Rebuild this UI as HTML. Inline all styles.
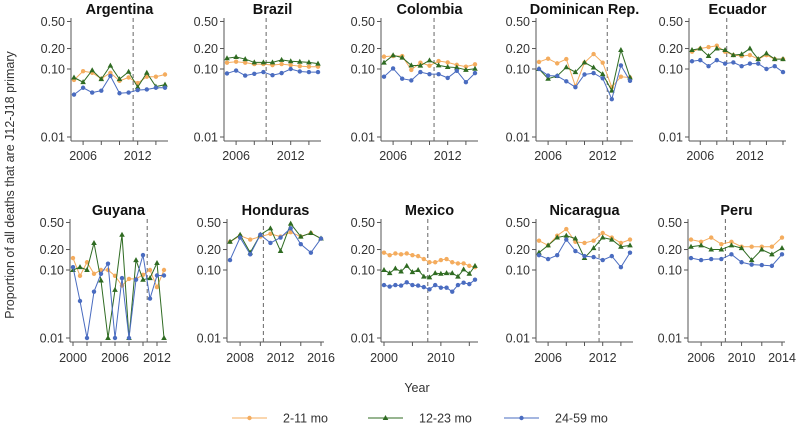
<!DOCTYPE html>
<html><head><meta charset="utf-8"><style>
body{margin:0;background:#fff}
svg{display:block;font-family:"Liberation Sans",sans-serif}
</style></head><body>
<svg id="c" width="800" height="426" viewBox="0 0 800 426" xmlns="http://www.w3.org/2000/svg"></svg>
<script>
const countries=["Argentina","Brazil","Colombia","Dominican Rep.","Ecuador","Guyana","Honduras","Mexico","Nicaragua","Peru"];
const startYears=[2005,2005,2005,2005,2005,2000,2007,2000,2005,2005];
const interventionYears=[2011.5,2009.3,2010.5,2012.5,2009.2,2010.6,2010.3,2007.7,2011.6,2008.4];
const tickLabels=[[2006,2012],[2006,2012],[2006,2012],[2006,2012],[2006,2012],[2000,2006,2012],[2008,2012,2016],[2000,2010],[2006,2012],[2006,2010,2014]];
const yTicks=[0.5,0.2,0.1,0.01];
const yTickLabels=["0.50","0.20","0.10","0.01"];
const s211=[
[0.069,0.093,0.088,0.072,0.088,0.067,0.075,0.062,0.077,0.077,0.083],
[0.124,0.128,0.124,0.118,0.118,0.114,0.118,0.114,0.11,0.108,0.108],
[0.152,0.155,0.155,0.097,0.124,0.112,0.131,0.125,0.115,0.108,0.117],
[0.127,0.142,0.121,0.14,0.056,0.124,0.166,0.124,0.054,0.077,0.075],
[0.18,0.2,0.21,0.22,0.18,0.16,0.155,0.16,0.14,0.16,0.14,0.14],
[0.15,0.082,0.13,0.088,0.1,0.1,0.082,0.059,0.074,0.074,0.085,0.1,0.056,0.1],
[0.26,0.32,0.28,0.31,0.34,0.31,0.36,0.31,0.35,0.29],
[0.18,0.165,0.175,0.17,0.175,0.165,0.16,0.145,0.13,0.13,0.14,0.145,0.13,0.125,0.125,0.115,0.11],
[0.27,0.23,0.32,0.4,0.26,0.25,0.27,0.35,0.3,0.25,0.28],
[0.28,0.26,0.3,0.24,0.26,0.22,0.22,0.22,0.22,0.3]];
const s1223=[
[0.075,0.064,0.096,0.071,0.112,0.071,0.091,0.054,0.088,0.055,0.059],
[0.144,0.15,0.14,0.125,0.125,0.125,0.136,0.13,0.128,0.125,0.12],
[0.124,0.159,0.147,0.113,0.112,0.134,0.113,0.107,0.105,0.097,0.101],
[0.1,0.072,0.079,0.106,0.09,0.125,0.105,0.084,0.048,0.19,0.075],
[0.19,0.2,0.155,0.2,0.19,0.16,0.165,0.2,0.14,0.17,0.14,0.14],
[0.1,0.11,0.1,0.25,0.07,0.01,0.051,0.33,0.01,0.14,0.072,0.076,0.127,0.01],
[0.26,0.33,0.18,0.33,0.41,0.19,0.48,0.31,0.35,0.29],
[0.1,0.09,0.105,0.095,0.115,0.093,0.1,0.08,0.078,0.09,0.088,0.09,0.09,0.08,0.102,0.088,0.115],
[0.18,0.23,0.3,0.32,0.29,0.15,0.21,0.3,0.28,0.22,0.23],
[0.22,0.23,0.2,0.2,0.23,0.21,0.14,0.2,0.17,0.21]];
const s2459=[
[0.042,0.053,0.045,0.048,0.079,0.044,0.045,0.049,0.05,0.053,0.053],
[0.086,0.095,0.08,0.085,0.09,0.081,0.087,0.1,0.092,0.09,0.09],
[0.077,0.102,0.072,0.068,0.09,0.084,0.084,0.074,0.094,0.064,0.087],
[0.1,0.08,0.079,0.066,0.054,0.083,0.087,0.073,0.036,0.113,0.067],
[0.13,0.135,0.11,0.135,0.12,0.125,0.11,0.12,0.12,0.1,0.11,0.09],
[0.11,0.035,0.01,0.048,0.088,0.124,0.01,0.076,0.01,0.072,0.166,0.038,0.083,0.083],
[0.14,0.3,0.17,0.33,0.25,0.3,0.41,0.24,0.18,0.29],
[0.06,0.057,0.06,0.059,0.066,0.06,0.059,0.056,0.052,0.06,0.055,0.055,0.048,0.06,0.065,0.062,0.072],
[0.165,0.145,0.165,0.28,0.19,0.16,0.155,0.14,0.16,0.11,0.18],
[0.15,0.14,0.145,0.145,0.17,0.13,0.12,0.118,0.115,0.17]];

const NS="http://www.w3.org/2000/svg";
const svg=document.getElementById('c');
function mk(tag,attrs,parent){const e=document.createElementNS(NS,tag);for(const k in attrs)e.setAttribute(k,attrs[k]);(parent||svg).appendChild(e);return e;}
const axisX=[71,224,381,536,689,70,227,381,536,688];
const W=97;
const colors={o:"#f4ac5e",g:"#2f6b22",b:"#4a6cc0"};
countries.forEach((name,i)=>{
  const row=i<5?0:1;
  const x0=axisX[i];
  const y01=row?338:137, yTop=row?219:18, yBot=row?342:141;
  const yScale=v=>y01-(Math.log10(v)+2)*68;
  const n=s211[i].length;
  const y0=startYears[i], y1=y0+n-1;
  const xScale=yr=>x0+3+(yr-y0)*(W-6)/(y1-y0);
  const g=mk('g',{});
  
  
  const t=mk('text',{x:x0+W/2,y:row?215:14,'text-anchor':'middle','font-size':14.5,'font-weight':'bold',fill:'#111'},g);
  t.textContent=name;
  
  
  mk('line',{x1:x0,x2:x0,y1:yTop,y2:yBot,stroke:'#555','stroke-width':1},g);
  mk('line',{x1:x0,x2:x0+W,y1:yBot,y2:yBot,stroke:'#555','stroke-width':1},g);
  yTicks.forEach((v,k)=>{
    const y=yScale(v);
    mk('line',{x1:x0-4,x2:x0,y1:y,y2:y,stroke:'#555'},g);
    const tl=mk('text',{x:x0-6,y:y+4.5,'text-anchor':'end','font-size':12.5,fill:'#333'},g);
    tl.textContent=yTickLabels[k];
    
    
  });
  const step=(name==="Mexico")?5:2;
  for(let yr=Math.ceil(y0/step)*step;yr<=y1+0.3;yr+=step){
    const x=xScale(yr); if(x>x0+W+0.5)continue;
    mk('line',{x1:x,x2:x,y1:yBot,y2:yBot+4,stroke:'#555'},g);
  }
  tickLabels[i].forEach(yr=>{
    const tl=mk('text',{x:xScale(yr),y:row?362:160,'text-anchor':'middle','font-size':12.5,fill:'#333'},g);
    tl.textContent=yr;
    
    
  });
  const dx=xScale(interventionYears[i]);
  const dl=mk('line',{x1:dx,x2:dx,y1:yTop,y2:yBot,stroke:'#666','stroke-dasharray':'4,3','stroke-width':1},g);
  
  
  [[s211[i],colors.o,'c','series-2-11-mo'],[s1223[i],colors.g,'t','series-12-23-mo'],[s2459[i],colors.b,'c','series-24-59-mo']].forEach(([vals,col,shape,nm])=>{
    const pts=vals.map((v,k)=>[xScale(y0+k),yScale(v)]);
    const pl=mk('polyline',{points:pts.map(p=>p.join(',')).join(' '),fill:'none',stroke:col,'stroke-width':1},g);
    
    
    pts.forEach(p=>{
      if(shape==='c'){mk('circle',{cx:p[0],cy:p[1],r:2.2,fill:col},g);}
      else{mk('polygon',{points:`${p[0]},${p[1]-3} ${p[0]-2.8},${p[1]+2} ${p[0]+2.8},${p[1]+2}`,fill:col},g);}
    });
  });
});
const yt=mk('text',{transform:'translate(14,185) rotate(-90)','text-anchor':'middle','font-size':12.5,fill:'#333'});
yt.textContent="Proportion of all deaths that are J12-J18 primary";


const xt=mk('text',{x:417,y:392,'text-anchor':'middle','font-size':12.5,fill:'#333'});
xt.textContent="Year";


const legendLabels=["2-11 mo","12-23 mo","24-59 mo"];
const legendX=[232,368,504];
const legendCols=[colors.o,colors.g,colors.b];
legendLabels.forEach((lab,k)=>{
  const g=mk('g',{});
  
  
  const lx=legendX[k];
  mk('line',{x1:lx,x2:lx+35,y1:418,y2:418,stroke:legendCols[k],'stroke-width':1},g);
  if(k===1)mk('polygon',{points:`${lx+17.5},415 ${lx+14.7},420 ${lx+20.3},420`,fill:legendCols[k]},g);
  else mk('circle',{cx:lx+17.5,cy:418,r:2.2,fill:legendCols[k]},g);
  const t=mk('text',{x:lx+51,y:422.5,'font-size':12.5,fill:'#333'},g);
  t.textContent=lab;
});
</script>
</body></html>
